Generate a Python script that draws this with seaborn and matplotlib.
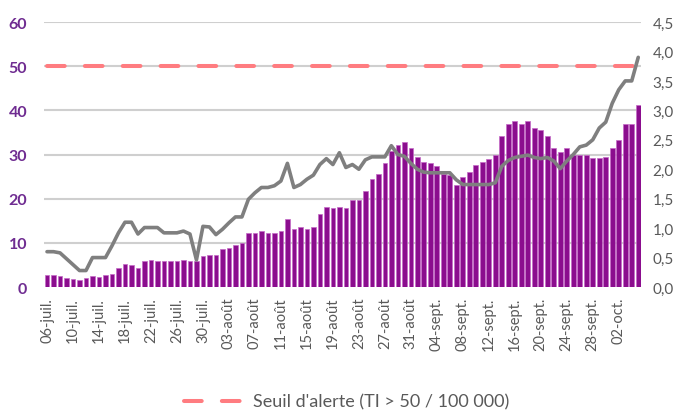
import matplotlib
matplotlib.use("Agg")
import matplotlib.pyplot as plt
from matplotlib.lines import Line2D
import numpy as np
import pandas as pd
import seaborn as sns

# taux d'incidence (barres, axe gauche) du 06-juil. au 05-oct.
incidence = [2.7, 2.7, 2.5, 2.1, 1.8, 1.5, 2.0, 2.6, 2.3, 2.7,
             3.0, 4.2, 5.3, 5.0, 4.2, 5.9, 6.2, 5.9, 5.9, 5.9,
             5.9, 6.1, 5.9, 5.8, 7.0, 7.3, 7.3, 8.5, 8.9, 9.5,
             10.0, 12.3, 12.3, 12.7, 12.3, 12.3, 12.7, 15.5, 13.2, 13.5,
             13.2, 13.6, 16.6, 18.2, 17.8, 18.2, 17.8, 19.8, 19.8, 21.7,
             24.4, 25.6, 28.0, 30.8, 32.1, 32.9, 31.4, 29.5, 28.3, 28.0,
             27.3, 25.5, 25.3, 23.1, 24.8, 26.1, 27.6, 28.3, 29.0, 29.8,
             34.2, 36.8, 37.6, 36.8, 37.6, 36.0, 35.6, 34.1, 31.4, 30.6,
             31.4, 29.8, 29.8, 29.8, 29.1, 29.1, 29.5, 31.4, 33.3, 36.8,
             36.8, 41.1]

# courbe grise (axe droit)
courbe = [0.60, 0.60, 0.58, 0.48, 0.38, 0.28, 0.28, 0.50, 0.50, 0.50,
          0.70, 0.92, 1.10, 1.10, 0.90, 1.01, 1.01, 1.01, 0.92, 0.92,
          0.92, 0.95, 0.90, 0.46, 1.03, 1.02, 0.89, 0.98, 1.09, 1.19,
          1.19, 1.49, 1.60, 1.69, 1.69, 1.72, 1.80, 2.10, 1.69, 1.74,
          1.83, 1.90, 2.08, 2.18, 2.08, 2.28, 2.03, 2.08, 2.00, 2.16,
          2.21, 2.21, 2.21, 2.40, 2.25, 2.22, 2.10, 2.00, 1.95, 1.94,
          1.94, 1.94, 1.94, 1.82, 1.74, 1.74, 1.74, 1.74, 1.74, 1.77,
          2.05, 2.15, 2.20, 2.22, 2.24, 2.20, 2.18, 2.20, 2.14, 2.01,
          2.14, 2.25, 2.38, 2.41, 2.50, 2.70, 2.80, 3.12, 3.35, 3.50,
          3.50, 3.90]

seuil = 50

tick_labels = ["06-juil.", "10-juil.", "14-juil.", "18-juil.", "22-juil.",
               "26-juil.", "30-juil.", "03-août", "07-août", "11-août",
               "15-août", "19-août", "23-août", "27-août", "31-août",
               "04-sept.", "08-sept.", "12-sept.", "16-sept.", "20-sept.",
               "24-sept.", "28-sept.", "02-oct."]

left_ticks = [0, 10, 20, 30, 40, 50, 60]
right_ticks = [0.0, 0.5, 1.0, 1.5, 2.0, 2.5, 3.0, 3.5, 4.0, 4.5]

sns.set_style("white")
plt.rcParams['font.family'] = ['Lato', 'DejaVu Sans']

n = len(incidence)
df = pd.DataFrame({"jour": np.arange(n), "incidence": incidence,
                   "courbe": courbe, "seuil": [seuil] * n})

fig = plt.figure(figsize=(6.86, 4.14), dpi=100)
ax = fig.add_axes([0.0638, 0.3043, 0.8713, 0.6401])

purple = '#8B0D8E'
grey = '#7F7F7F'
salmon = '#FF7C80'
txt = '#595959'

sns.barplot(data=df, x="jour", y="incidence", color=purple, width=0.72,
            saturation=1, edgecolor='#C46AC6', linewidth=0.5, ax=ax, zorder=2)
sns.lineplot(data=df, x="jour", y="seuil", color=salmon, lw=2.9, ax=ax,
             dashes=(4.4, 5.0), dash_capstyle='round', zorder=3)

# lignes de grille horizontales (axe gauche)
ax.hlines(left_ticks[1:], -0.5, n - 0.5, colors='#CFCFCF', linewidth=1.5,
          zorder=1.5)

ax.set_ylim(0, 60)
ax.set_xlim(-0.5, n - 0.5)
ax.set_yticks(left_ticks)
ax.set_yticklabels([str(t) for t in left_ticks], color='#6F2C91',
                   fontweight='bold', fontsize=11.5)
ax.set_xticks(np.arange(0, n, 4))
ax.set_xticklabels(tick_labels, rotation=90, color=txt, fontsize=10.5)
ax.tick_params(axis='x', length=0, pad=7)
ax.tick_params(axis='y', length=0, pad=12)
ax.set_xlabel("")
ax.set_ylabel("")
for s in ax.spines.values():
    s.set_visible(False)

ax2 = ax.twinx()
sns.lineplot(data=df, x="jour", y="courbe", color=grey, lw=2.6, ax=ax2,
             solid_joinstyle='round', zorder=4)
ax2.set_ylim(0, 4.5)
ax2.set_yticks(right_ticks)
ax2.set_yticklabels([f"{t:.1f}".replace('.', ',') for t in right_ticks],
                    color=txt, fontsize=11)
ax2.tick_params(axis='y', length=0, pad=8)
ax2.set_ylabel("")
ax2.grid(False)
ax2.patch.set_visible(False)
for s in ax2.spines.values():
    s.set_visible(False)
ax2.set_xlim(-0.5, n - 0.5)

handle = Line2D([], [], color=salmon, lw=2.9, dashes=(4.4, 5.0),
                dash_capstyle='round')
leg = fig.legend([handle], ["Seuil d'alerte (TI > 50 / 100 000)"],
                 loc='center', bbox_to_anchor=(0.505, 0.027), frameon=False,
                 handlelength=3.3, handletextpad=0.5, fontsize=13)
for t in leg.get_texts():
    t.set_color(txt)

fig.savefig("out.png", dpi=100)
